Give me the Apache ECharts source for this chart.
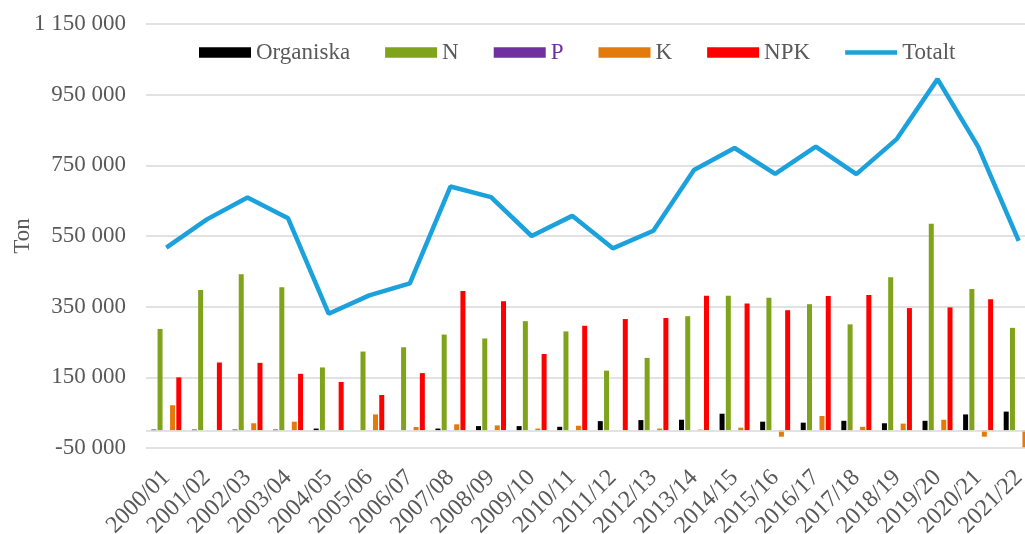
<!DOCTYPE html>
<html>
<head>
<meta charset="utf-8">
<title>Gödsel per år</title>
<script src="https://cdn.jsdelivr.net/npm/echarts@6/dist/echarts.min.js"></script>
<style>
  html, body { margin: 0; padding: 0; background: #fff; }
  #chart { width: 1025px; height: 534px; }
</style>
</head>
<body>
<div id="chart"></div>
<script>
// data (ton)
var years = ['2000/01', '2001/02', '2002/03', '2003/04', '2004/05', '2005/06', '2006/07', '2007/08',
  '2008/09', '2009/10', '2010/11', '2011/12', '2012/13', '2013/14', '2014/15', '2015/16',
  '2016/17', '2017/18', '2018/19', '2019/20', '2020/21', '2021/22'];

var organiska = [2000, 2000, 2000, 2000, 5000, 0, 0, 5000, 12000, 12000, 10000, 26000,
  29000, 30000, 47000, 24500, 21700, 27000, 20000, 27000, 45000, 53000];
var kvave = [287000, 397000, 442000, 405000, 178000, 223000, 235000, 271000, 260000, 309000, 280000,
  169000, 205000, 323000, 381000, 375000, 357000, 300000, 433000, 585000, 400000, 290000];
var fosfor = [0, 0, 0, 0, 0, 0, 0, 0, 0, 0, 0, 0, 0, 0, 0, 0, 0, 0, 0, 0, 0, 0];
var kalium = [71000, 0, 20000, 24500, 0, 45000, 9500, 17000, 14000, 5000, 13000, 0,
  5000, 2000, 7500, -18000, 40500, 10000, 19000, 30000, -18000, -48000];
var npk = [150000, 192000, 191000, 160000, 137000, 100000, 162000, 394000, 365000, 216000, 296000,
  315000, 318000, 381000, 359000, 340000, 380000, 383000, 346000, 348000, 371000, 240000];
var totalt = [517000, 597000, 659000, 600000, 330000, 382000, 416000, 690000, 660000, 550000, 607000,
  515000, 565000, 737000, 799000, 726000, 803000, 725000, 825000, 994000, 803000, 536000];

var grey = '#595959';
var font = '"Liberation Serif", "Times New Roman", serif';

function fmt(v) {
  var s = String(Math.abs(v)).replace(/\B(?=(\d{3})+(?!\d))/g, ' ');
  return (v < 0 ? '-' : '') + s;
}

function barSeries(name, data, color) {
  return {
    name: name,
    type: 'bar',
    data: data,
    barWidth: 5,
    barGap: '25%',
    itemStyle: { color: color }
  };
}

var chart = echarts.init(document.getElementById('chart'));

var series = [
  barSeries('Organiska', organiska, '#000000'),
  barSeries('N', kvave, '#80A31C'),
  barSeries('P', fosfor, '#7030A0'),
  barSeries('K', kalium, '#E27B0C'),
  barSeries('NPK', npk, '#FF0000'),
  {
    name: 'Totalt',
    type: 'line',
    data: totalt,
    symbol: 'none',
    lineStyle: { color: '#1BA1DC', width: 4.5 },
    itemStyle: { color: '#1BA1DC' }
  }
];
// zero line like the excel category axis
series[0].markLine = {
  silent: true,
  symbol: 'none',
  label: { show: false },
  lineStyle: { color: '#d9d9d9', width: 1.5, type: 'solid' },
  data: [{ yAxis: 0 }]
};

chart.setOption({
  animation: false,
  textStyle: { fontFamily: font },
  legend: {
    top: 41,
    left: 199,
    padding: 0,
    itemWidth: 52,
    itemHeight: 10.5,
    itemGap: 35,
    textStyle: { fontFamily: font, fontSize: 23, color: grey },
    data: [
      { name: 'Organiska', icon: 'rect' },
      { name: 'N', icon: 'rect' },
      { name: 'P', icon: 'rect', textStyle: { color: '#7030A0' } },
      { name: 'K', icon: 'rect' },
      { name: 'NPK', icon: 'rect' },
      // thin band so it looks like the line key in the reference
      { name: 'Totalt', icon: 'path://M0,0L0,0M0,3L52,3L52,7.5L0,7.5ZM52,10.5L52,10.5' }
    ]
  },
  grid: {
    left: 146,
    right: -14,
    top: 24,
    bottom: 86,
    outerBoundsMode: 'none'
  },
  xAxis: {
    type: 'category',
    data: years,
    axisLine: { onZero: false, show: false },
    axisTick: { show: false },
    axisLabel: {
      rotate: 45,
      margin: 26,
      interval: 0,
      fontFamily: font,
      fontSize: 24,
      color: grey
    }
  },
  yAxis: {
    type: 'value',
    min: -50000,
    max: 1150000,
    interval: 200000,
    name: 'Ton',
    nameLocation: 'middle',
    nameGap: 112,
    nameMoveOverlap: false,
    nameTextStyle: { fontFamily: font, fontSize: 23, color: grey },
    axisLine: { show: false },
    axisTick: { show: false },
    axisLabel: {
      margin: 20,
      fontFamily: font,
      fontSize: 23,
      color: grey,
      formatter: fmt
    },
    splitLine: { lineStyle: { color: '#d9d9d9', width: 1.5 } }
  },
  series: series
});
</script>
</body>
</html>
